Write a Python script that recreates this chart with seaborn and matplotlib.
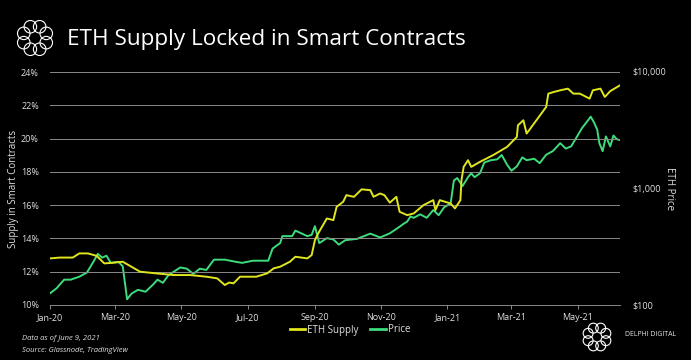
import numpy as np
import pandas as pd
import seaborn as sns
import matplotlib.pyplot as plt
import matplotlib.dates as mdates
from matplotlib.patches import Circle
from matplotlib.lines import Line2D
from matplotlib.ticker import FixedLocator, FuncFormatter, NullLocator

# ETH supply locked in smart contracts (%)
supply_dates = ['2020-01-01', '2020-01-10', '2020-01-22', '2020-01-28', '2020-02-05', '2020-02-13',
                '2020-02-20', '2020-03-01', '2020-03-08', '2020-03-16', '2020-03-24', '2020-04-08',
                '2020-04-24', '2020-05-09', '2020-05-24', '2020-06-03', '2020-06-10', '2020-06-14',
                '2020-06-18', '2020-06-24', '2020-07-09', '2020-07-19', '2020-07-25', '2020-07-31',
                '2020-08-09', '2020-08-14', '2020-08-25', '2020-08-29', '2020-09-01', '2020-09-04',
                '2020-09-12', '2020-09-18', '2020-09-21', '2020-09-27', '2020-09-30', '2020-10-07',
                '2020-10-14', '2020-10-22', '2020-10-25', '2020-10-31', '2020-11-04', '2020-11-09',
                '2020-11-15', '2020-11-18', '2020-11-25', '2020-12-01', '2020-12-10', '2020-12-19',
                '2020-12-21', '2020-12-25', '2021-01-04', '2021-01-08', '2021-01-13', '2021-01-14',
                '2021-01-16', '2021-01-20', '2021-01-23', '2021-01-31', '2021-02-12', '2021-02-25',
                '2021-03-06', '2021-03-07', '2021-03-12', '2021-03-15', '2021-03-24', '2021-04-02',
                '2021-04-04', '2021-04-09', '2021-04-15', '2021-04-22', '2021-04-27', '2021-05-03',
                '2021-05-12', '2021-05-15', '2021-05-22', '2021-05-26', '2021-05-31', '2021-06-09']
supply_pct = [12.8, 12.85, 12.85, 13.1, 13.1, 12.95,
              12.5, 12.55, 12.6, 12.3, 12.0, 11.9,
              11.8, 11.8, 11.7, 11.6, 11.2, 11.35,
              11.3, 11.7, 11.7, 11.9, 12.2, 12.3,
              12.6, 12.9, 12.8, 13.0, 13.9, 14.3,
              15.2, 15.1, 15.9, 16.2, 16.6, 16.5,
              16.95, 16.9, 16.5, 16.7, 16.6, 16.15,
              16.5, 15.6, 15.4, 15.5, 16.0, 16.3,
              15.7, 16.3, 16.1, 15.8, 16.3, 17.5,
              18.3, 18.7, 18.3, 18.6, 19.0, 19.5,
              20.1, 20.8, 21.1, 20.3, 21.1, 21.9,
              22.7, 22.8, 22.9, 23.0, 22.7, 22.7,
              22.4, 22.9, 23.0, 22.5, 22.85, 23.2]

# ETH price (USD)
price_dates = ['2020-01-01', '2020-01-07', '2020-01-14', '2020-01-20', '2020-01-28', '2020-02-04',
               '2020-02-10', '2020-02-14', '2020-02-18', '2020-02-22', '2020-02-26', '2020-03-04',
               '2020-03-08', '2020-03-12', '2020-03-16', '2020-03-22', '2020-03-29', '2020-04-05',
               '2020-04-09', '2020-04-14', '2020-04-19', '2020-04-30', '2020-05-06', '2020-05-12',
               '2020-05-18', '2020-05-24', '2020-05-31', '2020-06-10', '2020-06-20', '2020-06-26',
               '2020-07-06', '2020-07-20', '2020-07-24', '2020-07-31', '2020-08-02', '2020-08-11',
               '2020-08-14', '2020-08-25', '2020-08-29', '2020-09-01', '2020-09-05', '2020-09-12',
               '2020-09-18', '2020-09-23', '2020-09-29', '2020-10-10', '2020-10-22', '2020-10-31',
               '2020-11-09', '2020-11-18', '2020-11-22', '2020-11-25', '2020-11-28', '2020-12-01',
               '2020-12-07', '2020-12-13', '2020-12-19', '2020-12-24', '2020-12-29', '2021-01-04',
               '2021-01-07', '2021-01-10', '2021-01-15', '2021-01-20', '2021-01-23', '2021-01-26',
               '2021-01-31', '2021-02-04', '2021-02-10', '2021-02-16', '2021-02-20', '2021-02-25',
               '2021-03-01', '2021-03-06', '2021-03-11', '2021-03-15', '2021-03-22', '2021-03-27',
               '2021-04-02', '2021-04-08', '2021-04-15', '2021-04-20', '2021-04-25', '2021-04-30',
               '2021-05-05', '2021-05-11', '2021-05-13', '2021-05-16', '2021-05-19', '2021-05-21',
               '2021-05-24', '2021-05-27', '2021-05-31', '2021-06-03', '2021-06-06', '2021-06-09']
price_usd = [126, 139, 165, 165, 175, 190,
             235, 275, 255, 265, 230, 235,
             215, 112, 125, 135, 130, 150,
             165, 155, 180, 210, 205, 185,
             205, 200, 245, 245, 235, 230,
             240, 240, 305, 340, 390, 390,
             435, 390, 400, 475, 340, 375,
             365, 330, 360, 370, 410, 380,
             412, 470, 500, 520, 575, 560,
             600, 560, 653, 590, 690, 745,
             1170, 1230, 1050, 1250, 1350, 1250,
             1350, 1670, 1750, 1780, 1940, 1600,
             1420, 1550, 1850, 1750, 1800, 1650,
             1950, 2090, 2450, 2200, 2300, 2750,
             3300, 3900, 4140, 3700, 3200, 2450,
             2090, 2800, 2300, 2850, 2650, 2600]

supply_df = pd.DataFrame({'date': pd.to_datetime(supply_dates), 'supply': supply_pct})
price_df = pd.DataFrame({'date': pd.to_datetime(price_dates), 'price': price_usd})

yellow = '#e0e61e'
green = '#3ddc7c'
txt = '#e0e0e0'

plt.rcParams['font.family'] = ['Open Sans', 'DejaVu Sans']
fig = plt.figure(figsize=(6.91, 3.60), dpi=100, facecolor='black')
ax = fig.add_axes([50/691, 55/360, 570/691, 233/360])
ax.set_facecolor('black')

sns.lineplot(data=supply_df, x='date', y='supply', color=yellow, lw=1.4, ax=ax, zorder=3)
ax.set_ylim(10, 24)
ax.set_xlim(pd.Timestamp('2020-01-01'), pd.Timestamp('2021-06-09'))
ax.yaxis.set_major_locator(FixedLocator(np.arange(10, 25, 2)))
ax.yaxis.set_major_formatter(FuncFormatter(lambda v, p: f'{v:.0f}%'))
ax.grid(axis='y', color='#8a8a8a', lw=0.7)
ax.set_axisbelow(True)
ax.xaxis.set_major_locator(mdates.MonthLocator(bymonth=[1, 3, 5, 7, 9, 11]))
ax.xaxis.set_major_formatter(mdates.DateFormatter('%b-%y'))
for s in ['top', 'right', 'left']:
    ax.spines[s].set_visible(False)
ax.spines['bottom'].set_color('#8a8a8a')
ax.spines['bottom'].set_linewidth(0.7)
ax.tick_params(axis='x', colors='#8a8a8a', labelcolor=txt, labelsize=6.5, length=3, width=0.7, pad=3)
ax.tick_params(axis='y', colors=txt, labelsize=6.5, length=0, pad=8)
ax.set_xlabel('')
ax.set_ylabel('Supply in Smart Contracts', color=txt, fontsize=7, labelpad=1)

ax2 = ax.twinx()
sns.lineplot(data=price_df, x='date', y='price', color=green, lw=1.4, ax=ax2, zorder=2)
ax2.set_yscale('log')
ax2.set_ylim(100, 10000)
ax2.yaxis.set_major_locator(FixedLocator([100, 1000, 10000]))
ax2.yaxis.set_minor_locator(NullLocator())
ax2.yaxis.set_major_formatter(FuncFormatter(lambda v, p: f'${v:,.0f}'))
for s in ['top', 'right', 'left', 'bottom']:
    ax2.spines[s].set_visible(False)
ax2.tick_params(axis='y', colors=txt, labelsize=6.5, length=0, pad=9)
ax2.set_ylabel('ETH Price', color=txt, fontsize=7, rotation=270, labelpad=6)
ax2.set_xlabel('')
ax2.set_zorder(1)
ax.set_zorder(2)
ax.patch.set_visible(False)

# legend
handles = [Line2D([], [], color=yellow, lw=2), Line2D([], [], color=green, lw=2)]
fig.legend(handles, ['ETH Supply', 'Price'], loc='center', bbox_to_anchor=(350/691, 1 - 330/360),
           ncol=2, frameon=False, fontsize=7, labelcolor=txt, handlelength=1.6, handletextpad=0.2,
           columnspacing=1.2)

# title and notes
fig.text(67/691, 1 - 40/360, 'ETH Supply Locked in Smart Contracts', color='white', fontsize=16.2,
         va='center', ha='left')
fig.text(22/691, 1 - 338/360, 'Data as of June 9, 2021', color=txt, fontsize=5.5, style='italic', va='center')
fig.text(22/691, 1 - 350/360, 'Source: Glassnode, TradingView', color=txt, fontsize=5.5, style='italic', va='center')
fig.text(625/691, 1 - 335/360, 'DELPHI DIGITAL', color=txt, fontsize=5, va='center', ha='left')


def logo(cx, cy, size):
    lax = fig.add_axes([(cx - size) / 691, 1 - (cy + size) / 360, 2 * size / 691, 2 * size / 360])
    lax.set_xlim(-1, 1)
    lax.set_ylim(-1, 1)
    lax.axis('off')
    for k in range(8):
        a = 2 * np.pi * k / 8 + np.pi / 8
        lax.add_patch(Circle((0.64 * np.cos(a), 0.64 * np.sin(a)), 0.33, fill=False, ec='white', lw=0.8))


logo(35, 38, 19)
logo(597, 337, 15)

fig.savefig('out.png', dpi=100, facecolor='black')
